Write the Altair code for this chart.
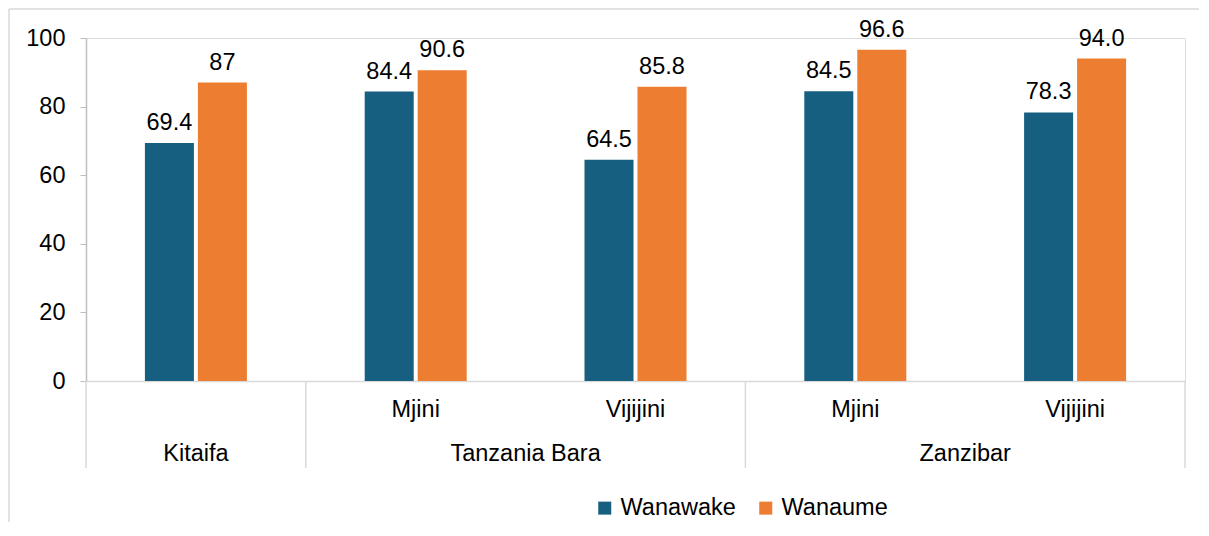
import altair as alt
import pandas as pd

# ---- data ----
slots = ["Kitaifa", "Tanzania Bara|Mjini", "Tanzania Bara|Vijijini", "Zanzibar|Mjini", "Zanzibar|Vijijini"]
sub_labels = ["", "Mjini", "Vijijini", "Mjini", "Vijijini"]
series = ["Wanawake", "Wanaume"]
wanawake = [69.4, 84.4, 64.5, 84.5, 78.3]
wanaume = [87, 90.6, 85.8, 96.6, 94.0]
wanawake_labels = ["69.4", "84.4", "64.5", "84.5", "78.3"]
wanaume_labels = ["87", "90.6", "85.8", "96.6", "94.0"]
groups = ["Kitaifa", "Tanzania Bara", "Zanzibar"]
y_ticks = [0, 20, 40, 60, 80, 100]

FONT = "Liberation Sans"
FS = 23.5
BLUE = "#175f80"
ORANGE = "#ed7d31"
W, H = 1099, 343
SLOT = W / len(slots)

rows = []
for i, s in enumerate(slots):
    rows.append({"slot": s, "series": "Wanawake", "value": wanawake[i], "label": wanawake_labels[i]})
    rows.append({"slot": s, "series": "Wanaume", "value": wanaume[i], "label": wanaume_labels[i]})
df = pd.DataFrame(rows)

sub_df = pd.DataFrame({"slot": slots, "sub": sub_labels})
grp_mid_df = pd.DataFrame({"slot": ["Tanzania Bara|Vijijini", "Zanzibar|Vijijini"], "grp": groups[1:]})
grp_single_df = pd.DataFrame({"slot": ["Kitaifa"], "grp": [groups[0]]})
sep_left_df = pd.DataFrame({"slot": ["Kitaifa", "Tanzania Bara|Mjini", "Zanzibar|Mjini"]})
sep_right_df = pd.DataFrame({"slot": ["Zanzibar|Vijijini"]})
frame_df = pd.DataFrame({"k": [0]})

xscale = alt.Scale(domain=slots, paddingInner=0, paddingOuter=0)
xoff_scale = alt.Scale(domain=series, paddingInner=0.075, paddingOuter=0,
                       range=[SLOT / 2 - 51, SLOT / 2 + 51])
yscale = alt.Scale(domain=[0, 100], nice=False)

x_enc = alt.X("slot:N", scale=xscale,
              axis=alt.Axis(title=None, labels=False, ticks=False, domainColor="#d9d9d9", domainWidth=1.5))

bars = alt.Chart(df).mark_bar().encode(
    x=x_enc,
    xOffset=alt.XOffset("series:N", scale=xoff_scale),
    y=alt.Y("value:Q", scale=yscale,
            axis=alt.Axis(title=None, values=y_ticks, grid=False, tickSize=6,
                          domainColor="#bfbfbf", tickColor="#bfbfbf", domainWidth=1.5,
                          labelFontSize=FS, labelFont=FONT, labelColor="black",
                          labelPadding=15)),
    color=alt.Color("series:N", scale=alt.Scale(domain=series, range=[BLUE, ORANGE]),
                    legend=alt.Legend(title=None, orient="none", legendX=507, legendY=458,
                                      direction="horizontal", symbolType="square",
                                      symbolSize=169, symbolStrokeWidth=0,
                                      labelFontSize=FS, labelFont=FONT, labelColor="black",
                                      labelOffset=4, columnPadding=18, padding=0)),
)

labels = alt.Chart(df).mark_text(fontSize=FS, font=FONT, color="black", baseline="alphabetic", dy=-13).encode(
    x=alt.X("slot:N", scale=xscale),
    xOffset=alt.XOffset("series:N", scale=xoff_scale),
    y=alt.Y("value:Q", scale=yscale),
    text="label:N",
)

sub_text = alt.Chart(sub_df).mark_text(fontSize=FS, font=FONT, color="black", baseline="alphabetic").encode(
    x=alt.X("slot:N", scale=xscale),
    y=alt.value(H + 36),
    text="sub:N",
)

grp_mid = alt.Chart(grp_mid_df).mark_text(fontSize=FS, font=FONT, color="black", baseline="alphabetic").encode(
    x=alt.X("slot:N", scale=xscale, bandPosition=0),
    y=alt.value(H + 80),
    text="grp:N",
)

grp_single = alt.Chart(grp_single_df).mark_text(fontSize=FS, font=FONT, color="black", baseline="alphabetic").encode(
    x=alt.X("slot:N", scale=xscale, bandPosition=0.5),
    y=alt.value(H + 80),
    text="grp:N",
)

sep_left = alt.Chart(sep_left_df).mark_rule(color="#d9d9d9", strokeWidth=1.5).encode(
    x=alt.X("slot:N", scale=xscale, bandPosition=0),
    y=alt.value(H),
    y2=alt.value(H + 87),
)

sep_right = alt.Chart(sep_right_df).mark_rule(color="#d9d9d9", strokeWidth=1.5).encode(
    x=alt.X("slot:N", scale=xscale, bandPosition=1),
    y=alt.value(H),
    y2=alt.value(H + 87),
)

# outer chart-area border (only top and left edges fall inside the picture)
frame_top = alt.Chart(frame_df).mark_rule(color="#d9d9d9", strokeWidth=1.5).encode(
    x=alt.value(-77), x2=alt.value(1113), y=alt.value(-29),
)
frame_left = alt.Chart(frame_df).mark_rule(color="#d9d9d9", strokeWidth=1.5).encode(
    x=alt.value(-77), y=alt.value(-29), y2=alt.value(484),
)

chart = alt.layer(frame_top, frame_left, sep_left, sep_right, bars, labels, sub_text, grp_mid, grp_single).properties(
    width=W, height=H, padding=0
).configure_view(strokeWidth=0).configure(background="white")

chart.save("out.html", embed_options={"renderer": "svg", "actions": False})
